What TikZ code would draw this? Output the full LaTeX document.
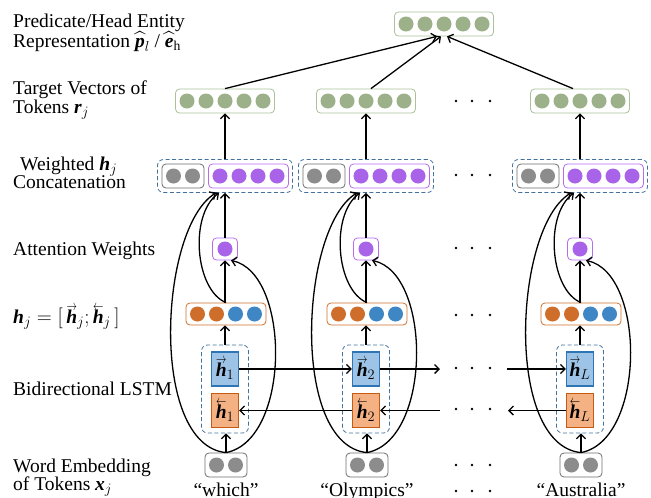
\documentclass[tikz,border=0pt]{standalone}
\usepackage{amsmath}
\usepackage{graphicx}
\usepackage{fontspec}
\setmainfont{Liberation Serif}
\usetikzlibrary{arrows.meta,calc}
\definecolor{gfill}{HTML}{9CB08A}
\definecolor{gline}{HTML}{A9C29A}
\definecolor{pfill}{HTML}{A863E8}
\definecolor{pline}{HTML}{B86CF0}
\definecolor{ofill}{HTML}{CF6D2B}
\definecolor{oline}{HTML}{D0702C}
\definecolor{bfill}{HTML}{3F86C4}
\definecolor{kfill}{HTML}{8C8C8C}
\definecolor{kline}{HTML}{6E6E6E}
\definecolor{dashblue}{HTML}{41719C}
\definecolor{fwfill}{HTML}{9DC3E6}
\definecolor{fwline}{HTML}{2E75B6}
\definecolor{bwfill}{HTML}{F4B183}
\definecolor{bwline}{HTML}{C55A11}
\newcommand{\bfh}{\textbf{\textit{h}}}
\newcommand{\bfp}{\textbf{\textit{p}}}
\newcommand{\bfe}{\textbf{\textit{e}}}
\newcommand{\bfr}{\textbf{\textit{r}}}
\newcommand{\bfx}{\textbf{\textit{x}}}
\newcommand{\accarrow}[2]{\mathord{\vbox{\offinterlineskip\halign{\hfil##\hfil\cr\scalebox{0.72}[1]{$\scriptstyle#1$}\cr\noalign{\kern-0.6pt}$#2$\cr}}}}
\newcommand{\fwh}{\accarrow{\rightarrow}{\bfh}}
\newcommand{\bwh}{\accarrow{\leftarrow}{\bfh}}
\tikzset{
  vecbox/.style={draw, rounded corners=4pt, line width=0.8pt, minimum height=24pt, inner sep=0pt, fill=white},
  grpbox/.style={draw=dashblue, dash pattern=on 4pt off 2.5pt, rounded corners=6pt, line width=0.8pt, inner sep=0pt},
  arr/.style={line width=1.3pt, -{Straight Barb[length=4.5pt,width=9pt]}},
  lbl/.style={anchor=base west, inner sep=0pt},
  hbox/.style={draw, line width=1.2pt, minimum width=27pt, minimum height=34pt, inner sep=0pt},
}
\newcommand{\vecrow}[5]{%
  \gdef\nvec{0}%
  \foreach \cc [count=\i] in {#5} {\xdef\nvec{\i}}%
  \node[vecbox, minimum width={\nvec*19+4}, #4] (#1) at (#2,#3) {};
  \foreach \cc [count=\i] in {#5} {\fill[\cc] ($(#1.center)+({(\i-(\nvec+1)/2)*19},0)$) circle (7.5pt);}%
}
\begin{document}
\begin{tikzpicture}[x=1pt, y=-1pt, font=\fontsize{19.5}{20}\selectfont]
\useasboundingbox (0,0) rectangle (651,498);

% left labels
\node[lbl] (L1) at (13,27) {Predicate/Head Entity};
\node[lbl] (L2) at (13,47) {Representation $\widehat{\bfp}_{l}$ / $\widehat{\bfe}_{\mathrm{h}}$};
\node[lbl] (L3) at (13,94) {Target Vectors of};
\node[lbl] (L4) at (13,113) {Tokens $\bfr_j$};
\node[lbl] (L5) at (20,170) {Weighted $\bfh_j$};
\node[lbl] (L6) at (13,188) {Concatenation};
\node[lbl] (L7) at (13,255) {Attention Weights};
\node[lbl] (L8) at (13,323) {$\bfh_j = [\,\fwh_j;\bwh_j\,]$};
\node[lbl] (L9) at (13,395) {Bidirectional LSTM};
\node[lbl] (L10) at (13,472) {Word Embedding};
\node[lbl] (L11) at (13,490) {of Tokens $\bfx_j$};

% top representation
\vecrow{rep}{444}{24}{draw=gline}{gfill,gfill,gfill,gfill,gfill}

\foreach \cx/\nm/\sub/\word in {225/a/1/“which”, 366/b/2/“Olympics”, 580/c/L/“Australia”} {
  \vecrow{t\nm}{\cx}{101}{draw=gline}{gfill,gfill,gfill,gfill,gfill}
  \node[grpbox, minimum width=135pt, minimum height=33pt] (w\nm) at (\cx,176) {};
  \vecrow{wg\nm}{\cx-42}{176}{draw=kline}{kfill,kfill}
  \vecrow{wp\nm}{\cx+23.5}{176}{draw=pline}{pfill,pfill,pfill,pfill}
  \vecrow{att\nm}{\cx}{249}{draw=pline, minimum width=25pt, minimum height=22pt}{pfill}
  \vecrow{h\nm}{\cx+1}{314}{draw=oline, minimum height=22pt}{ofill,ofill,bfill,bfill}
  \node[grpbox, minimum width=47pt, minimum height=88pt] (l\nm) at (\cx,389) {};
  \node[hbox, draw=fwline, fill=fwfill] (f\nm) at (\cx,369) {$\fwh_{\sub}$};
  \node[hbox, draw=bwline, fill=bwfill] (r\nm) at (\cx,410.5) {$\bwh_{\sub}$};
  \vecrow{e\nm}{\cx+1}{465}{draw=kline}{kfill,kfill}
  \node[anchor=base, inner sep=0pt] (word\nm) at (\cx+1,496) {\word};

  \draw[arr] (e\nm.north) -- (e\nm.north |- l\nm.south);
  \draw[arr] (l\nm.north) -- (l\nm.north |- h\nm.south);
  \draw[arr] (h\nm.north -| att\nm.south) -- (att\nm.south);
  \draw[arr] (att\nm.north) -- (w\nm.south);
  \draw[arr] (w\nm.north) -- (t\nm.south);
  \draw[arr] (e\nm.north) .. controls (\cx-76,445) and (\cx-66,228) .. ($(w\nm.south)+(-9,0)$);
  \draw[arr] (e\nm.north) .. controls (\cx+66,440) and (\cx+66,273) .. ($(att\nm.south)+(6,0)$);
  \draw[arr] (h\nm.north) .. controls (\cx-30,290) and (\cx-36,215) .. ($(w\nm.south)+(-6,0)$);
}

% to the representation
\draw[arr] (ta.north) -- ($(rep.south)+(-7,0)$);
\draw[arr] ($(tb.north)+(5,0)$) -- ($(rep.south)+(-3,0)$);
\draw[arr] ($(tc.north)+(-7,0)$) -- ($(rep.south)+(3,0)$);

% LSTM chain
\coordinate (fout) at (440,369);
\coordinate (fin) at (507,369);
\coordinate (rin) at (440,410.5);
\coordinate (rout) at (508,410.5);
\draw[arr] (fa.east) -- (fb.west);
\draw[arr] (fb.east) -- (fout);
\draw[arr] (fin) -- (fc.west);
\draw[arr] (rb.west) -- (ra.east);
\draw[arr] (rin) -- (rb.east);
\draw[arr] (rc.west) -- (rout);

% ellipsis dots
\foreach \yy in {101,175,248,315,368,409,465,491}
  \foreach \xx in {456,472,490}
    \fill (\xx,\yy) circle (1.3pt);
\end{tikzpicture}
\end{document}
